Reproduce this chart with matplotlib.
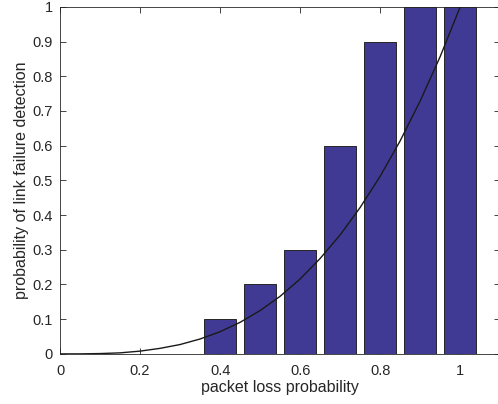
import matplotlib
matplotlib.use("Agg")
import matplotlib.pyplot as plt

plt.rcParams['font.family'] = ['Liberation Sans', 'DejaVu Sans']

# bar data: packet loss probability vs. detection probability
loss = [0.4, 0.5, 0.6, 0.7, 0.8, 0.9, 1.0]
detect = [0.1, 0.2, 0.3, 0.6, 0.9, 1.0, 1.0]

# curve
curve_x = [0.0, 0.05, 0.1, 0.15, 0.2, 0.25, 0.3, 0.35, 0.4, 0.45, 0.5,
           0.55, 0.6, 0.65, 0.7, 0.75, 0.8, 0.85, 0.9, 0.95, 1.0]
curve_y = [0.0, 0.0001, 0.001, 0.003, 0.008, 0.016, 0.027, 0.043, 0.064, 0.091, 0.125,
           0.166, 0.216, 0.275, 0.343, 0.422, 0.512, 0.614, 0.729, 0.857, 1.0]

xticks = [0, 0.2, 0.4, 0.6, 0.8, 1.0]
xticklabels = ['0', '0.2', '0.4', '0.6', '0.8', '1']
yticks = [0, 0.1, 0.2, 0.3, 0.4, 0.5, 0.6, 0.7, 0.8, 0.9, 1.0]
yticklabels = ['0', '0.1', '0.2', '0.3', '0.4', '0.5', '0.6', '0.7', '0.8', '0.9', '1']

gray = '#262626'

fig = plt.figure(figsize=(4.98, 4.04), dpi=100)
ax = fig.add_axes([0.1205, 0.124, 0.884, 0.859])

ax.bar(loss, detect, width=0.08, color='#413a94', edgecolor=gray, linewidth=0.7, zorder=2)
ax.plot(curve_x, curve_y, color='#1a1a1a', linewidth=1.0, zorder=3)

ax.set_xlim(0, 1.1)
ax.set_ylim(0, 1)
ax.set_xticks(xticks)
ax.set_xticklabels(xticklabels)
ax.set_yticks(yticks)
ax.set_yticklabels(yticklabels)

ax.tick_params(direction='in', top=True, right=True, length=4, width=0.6,
               colors=gray, labelsize=10.5)
ax.tick_params(axis='x', pad=7)
ax.tick_params(axis='y', pad=5)
for s in ax.spines.values():
    s.set_color(gray)
    s.set_linewidth(0.6)

ax.set_xlabel('packet loss probability', fontsize=11.5, color=gray, labelpad=2)
ax.set_ylabel('probability of link failure detection', fontsize=11.5, color=gray, labelpad=3)

fig.savefig('out.png', dpi=100)
